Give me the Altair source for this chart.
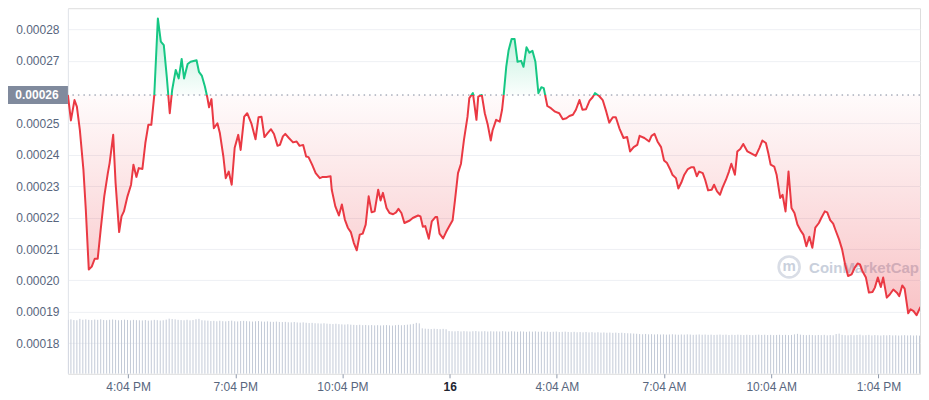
import altair as alt
import pandas as pd

# ---------------- data ----------------
start_time = "2023-06-15 14:23"
# minutes after start_time
minutes = [0, 5, 11, 15, 20, 26, 30, 35, 40, 45, 50, 55, 61, 67, 70, 76, 80, 86, 90, 94,
           100, 106, 110, 115, 119, 125, 130, 135, 140, 145, 151, 156, 161, 166, 171, 175, 181, 186, 191, 195,
           201, 206, 216, 220, 225, 230, 234, 237, 241, 245, 251, 255, 261, 265, 270, 275, 280, 286, 290, 296,
           301, 308, 315, 320, 325, 330, 336, 341, 346, 352, 356, 361, 365, 371, 378, 384, 389, 395, 400, 404,
           410, 416, 423, 428, 434, 441, 443, 449, 455, 460, 465, 470, 475, 480, 485, 490, 495, 500, 505, 510,
           515, 521, 525, 529, 535, 540, 546, 551, 555, 560, 565, 574, 579, 588, 592, 596, 600, 606, 611, 617,
           620, 624, 630, 635, 641, 646, 650, 655, 660, 665, 671, 674, 680, 686, 689, 695, 700, 705, 710, 713,
           719, 725, 729, 732, 736, 740, 745, 750, 755, 761, 765, 770, 775, 780, 785, 790, 795, 799, 805, 811,
           818, 825, 831, 837, 842, 848, 853, 859, 864, 870, 876, 881, 885, 892, 898, 904, 909, 915, 920, 926,
           933, 939, 944, 950, 956, 960, 968, 976, 980, 985, 990, 996, 1001, 1006, 1012, 1015, 1021, 1025, 1030, 1035,
           1041, 1047, 1051, 1056, 1060, 1066, 1070, 1075, 1081, 1085, 1090, 1095, 1099, 1105, 1110, 1114, 1120, 1124, 1129, 1134,
           1141, 1148, 1155, 1161, 1166, 1172, 1176, 1180, 1186, 1190, 1196, 1200, 1205, 1210, 1215, 1220, 1225, 1231, 1235, 1240,
           1245, 1250, 1255, 1261, 1265, 1271, 1275, 1280, 1285, 1289, 1295, 1300, 1305, 1310, 1316, 1321, 1326, 1330, 1334, 1340,
           1345, 1351, 1355, 1360, 1365, 1369, 1375, 1380, 1386, 1392, 1396, 1401, 1405, 1411, 1415, 1420, 1425, 1431, 1437, 1440]

prices = [0.0002591, 0.0002510, 0.0002575, 0.0002554, 0.0002480, 0.0002353, 0.0002226, 0.0002035, 0.0002044, 0.0002069,
          0.0002069, 0.0002162, 0.0002268, 0.0002342, 0.0002374, 0.0002464, 0.0002311, 0.0002154, 0.0002204, 0.0002220,
          0.0002268, 0.0002305, 0.0002369, 0.0002330, 0.0002358, 0.0002355, 0.0002438, 0.0002496, 0.0002496, 0.0002591,
          0.0002835, 0.0002761, 0.0002750, 0.0002649, 0.0002533, 0.0002607, 0.0002671, 0.0002644, 0.0002706, 0.0002644,
          0.0002690, 0.0002697, 0.0002702, 0.0002665, 0.0002652, 0.0002618, 0.0002584, 0.0002552, 0.0002578, 0.0002485,
          0.0002501, 0.0002471, 0.0002395, 0.0002326, 0.0002347, 0.0002305, 0.0002423, 0.0002464, 0.0002416, 0.0002522,
          0.0002533, 0.0002501, 0.0002450, 0.0002520, 0.0002522, 0.0002457, 0.0002471, 0.0002482, 0.0002467, 0.0002429,
          0.0002432, 0.0002459, 0.0002467, 0.0002454, 0.0002440, 0.0002443, 0.0002429, 0.0002432, 0.0002395, 0.0002393,
          0.0002369, 0.0002342, 0.0002326, 0.0002330, 0.0002330, 0.0002332, 0.0002289, 0.0002236, 0.0002207, 0.0002242,
          0.0002194, 0.0002168, 0.0002154, 0.0002120, 0.0002096, 0.0002146, 0.0002149, 0.0002178, 0.0002268, 0.0002217,
          0.0002220, 0.0002289, 0.0002255, 0.0002279, 0.0002231, 0.0002215, 0.0002211, 0.0002217, 0.0002228, 0.0002215,
          0.0002183, 0.0002191, 0.0002199, 0.0002207, 0.0002204, 0.0002171, 0.0002173, 0.0002133, 0.0002188, 0.0002202,
          0.0002202, 0.0002149, 0.0002134, 0.0002154, 0.0002175, 0.0002192, 0.0002257, 0.0002342, 0.0002372, 0.0002448,
          0.0002522, 0.0002581, 0.0002597, 0.0002512, 0.0002586, 0.0002591, 0.0002533, 0.0002496, 0.0002446, 0.0002478,
          0.0002512, 0.0002506, 0.0002544, 0.0002597, 0.0002681, 0.0002734, 0.0002770, 0.0002770, 0.0002697, 0.0002700,
          0.0002681, 0.0002743, 0.0002726, 0.0002732, 0.0002697, 0.0002597, 0.0002616, 0.0002613, 0.0002556, 0.0002549,
          0.0002538, 0.0002533, 0.0002514, 0.0002517, 0.0002524, 0.0002528, 0.0002544, 0.0002575, 0.0002544, 0.0002546,
          0.0002573, 0.0002584, 0.0002597, 0.0002588, 0.0002575, 0.0002538, 0.0002503, 0.0002520, 0.0002520, 0.0002485,
          0.0002454, 0.0002457, 0.0002411, 0.0002425, 0.0002432, 0.0002461, 0.0002454, 0.0002443, 0.0002461, 0.0002467,
          0.0002443, 0.0002425, 0.0002382, 0.0002374, 0.0002351, 0.0002337, 0.0002326, 0.0002293, 0.0002312, 0.0002337,
          0.0002355, 0.0002361, 0.0002361, 0.0002332, 0.0002347, 0.0002342, 0.0002321, 0.0002287, 0.0002289, 0.0002305,
          0.0002284, 0.0002273, 0.0002295, 0.0002321, 0.0002347, 0.0002372, 0.0002337, 0.0002411, 0.0002419, 0.0002435,
          0.0002411, 0.0002404, 0.0002397, 0.0002422, 0.0002446, 0.0002438, 0.0002406, 0.0002369, 0.0002363, 0.0002337,
          0.0002263, 0.0002273, 0.0002220, 0.0002347, 0.0002231, 0.0002215, 0.0002178, 0.0002157, 0.0002146, 0.0002109,
          0.0002139, 0.0002104, 0.0002168, 0.0002183, 0.0002199, 0.0002220, 0.0002217, 0.0002192, 0.0002181, 0.0002160,
          0.0002130, 0.0002099, 0.0002051, 0.0002014, 0.0002019, 0.0002040, 0.0002054, 0.0002051, 0.0002030, 0.0002009,
          0.0001961, 0.0001963, 0.0001977, 0.0002009, 0.0001979, 0.0002009, 0.0001945, 0.0001955, 0.0001971, 0.0001961,
          0.0001950, 0.0001984, 0.0001974, 0.0001895, 0.0001908, 0.0001902, 0.0001889, 0.0001913, 0.0001927, 0.0001927]

base_price = 0.0002591   # opening price (dotted reference line)

# 5-minute volume bars (relative heights)
volumes = [540, 545, 538, 536, 550, 541, 545, 540, 538, 543, 540, 546, 539, 537, 541, 544, 540, 536, 538, 542, 539, 535, 540, 537,
           536, 534, 538, 532, 535, 540, 537, 533, 536, 542, 552, 548, 545, 540, 538, 536, 541, 535, 538, 546, 550, 536, 534, 532,
           528, 530, 526, 531, 527, 525, 529, 532, 526, 524, 528, 530, 527, 525, 523, 526, 528, 524, 522, 525, 521, 520, 523, 519,
           518, 520, 516, 515, 519, 514, 512, 515, 511, 508, 510, 506, 505, 503, 506, 502, 500, 498, 501, 497, 495, 493, 496, 492,
           490, 488, 491, 487, 489, 486, 488, 485, 487, 484, 486, 488, 485, 483, 487, 490, 486, 489, 492, 495, 500, 510, 505, 455,
           452, 450, 448, 451, 449, 447, 450, 446, 428, 426, 425, 428, 424, 427, 425, 423, 426, 428, 424, 425, 427, 423, 426, 424,
           425, 423, 427, 424, 422, 426, 424, 421, 425, 423, 420, 424, 422, 425, 421, 423, 420, 422, 419, 421, 423, 418, 420, 422,
           419, 417, 420, 416, 418, 415, 419, 414, 417, 413, 416, 412, 414, 411, 413, 410, 412, 409, 411, 408, 406, 405, 403, 401,
           398, 396, 399, 395, 397, 394, 396, 393, 395, 392, 394, 396, 393, 391, 394, 392, 395, 393, 390, 392, 394, 391, 393, 390,
           392, 389, 391, 393, 390, 392, 388, 391, 389, 392, 390, 388, 391, 389, 387, 390, 392, 389, 391, 388, 390, 387, 389, 391,
           388, 390, 387, 389, 395, 400, 392, 389, 387, 390, 388, 386, 389, 387, 390, 385, 388, 386, 398, 402, 390, 387, 385, 388,
           386, 389, 392, 385, 387, 390, 384, 388, 386, 383, 387, 385, 388, 384, 386, 383, 385, 387, 384, 386, 383, 385, 382, 384]

y_ticks = [0.00018, 0.00019, 0.00020, 0.00021, 0.00022, 0.00023, 0.00024, 0.00025, 0.00027, 0.00028]
x_tick_hours = [16, 19, 22, 1, 4, 7, 10, 13]
x_tick_labels = ["4:04 PM", "7:04 PM", "10:04 PM", "16", "4:04 AM", "7:04 AM", "10:04 AM", "1:04 PM"]
watermark = "CoinMarketCap"

# ---------------- tables ----------------
t0 = pd.Timestamp(start_time)
price_df = pd.DataFrame({"time": t0 + pd.to_timedelta(minutes, unit="m"),
                         "price": prices, "base": base_price})
vol_df = pd.DataFrame({"time": pd.date_range(t0, periods=len(volumes), freq="5min"),
                       "volume": volumes})
base_df = pd.DataFrame({"base": [base_price], "label": [f"{base_price:.5f}"]})
wm_df = pd.DataFrame({"txt": [watermark]})

GREEN = "#16c784"
RED = "#ea3943"
FONT = "Liberation Sans"
LABEL = "#58667e"

pmax, pmin = max(prices), min(prices)
off = (pmax - base_price) / (pmax - pmin)

# visible window (page is 929px wide; the last few minutes fall just past the right edge)
x_scale = alt.Scale(domain=[alt.DateTime(year=2023, month=6, date=15, hours=14, minutes=23),
                            alt.DateTime(year=2023, month=6, date=16, hours=14, minutes=13, seconds=48)])
tick_vals = [alt.DateTime(year=2023, month=6, date=(15 if h >= 14 else 16), hours=h, minutes=4)
             for h in x_tick_hours]
is16 = "hours(datum.value) == 1"
x_axis = alt.Axis(values=tick_vals,
                  labelExpr=f"{x_tick_labels}[indexof({x_tick_hours}, hours(datum.value))]",
                  title=None, grid=False, domain=False, ticks=True, tickSize=4,
                  tickColor="#8e98aa", labelPadding=4, labelFontSize=12, labelFont=FONT,
                  labelColor={"condition": {"test": is16, "value": "#222531"}, "value": LABEL},
                  labelFontWeight={"condition": {"test": is16, "value": "bold"}, "value": "normal"},
                  labelFlush=False)

y_scale = alt.Scale(domain=[0.00017022, 0.00028678], nice=False, zero=False)
y_axis = alt.Axis(values=y_ticks, format=".5f", title=None, orient="left",
                  grid=True, gridColor="#eef0f4", domain=True, domainColor="#e3e6ec",
                  ticks=False, tickSize=0, labelPadding=9, labelFontSize=12, labelFont=FONT,
                  labelColor=LABEL, minExtent=60, maxExtent=60)

X = alt.X("time:T", scale=x_scale, axis=x_axis)

vol = alt.Chart(vol_df).mark_rule(color="#c3cad7", strokeWidth=1, clip=True).encode(
    x=X,
    y=alt.Y("volume:Q", scale=alt.Scale(domain=[0, 3660]), axis=None),
    y2=alt.datum(0),
)

area_grad = alt.Gradient(gradient="linear", x1=0, x2=0, y1=0, y2=1, stops=[
    alt.GradientStop(color="rgba(22,199,132,0.32)", offset=0),
    alt.GradientStop(color="rgba(22,199,132,0.02)", offset=off),
    alt.GradientStop(color="rgba(234,57,67,0.02)", offset=off),
    alt.GradientStop(color="rgba(234,57,67,0.30)", offset=1),
])
line_grad = alt.Gradient(gradient="linear", x1=0, x2=0, y1=0, y2=1, stops=[
    alt.GradientStop(color=GREEN, offset=0),
    alt.GradientStop(color=GREEN, offset=off),
    alt.GradientStop(color=RED, offset=off),
    alt.GradientStop(color=RED, offset=1),
])

wm_logo = alt.Chart(wm_df).mark_point(shape="circle", filled=False, size=440, strokeWidth=2.6,
                                      color="#c9d0dc").encode(x=alt.value(722), y=alt.value(259))
wm_m = alt.Chart(wm_df).mark_text(text="m", font=FONT, fontSize=15, fontWeight="bold",
                                  color="#c9d0dc", align="center", baseline="middle").encode(
    x=alt.value(722), y=alt.value(258))
wm_text = alt.Chart(wm_df).mark_text(font=FONT, fontSize=15, fontWeight="bold", color="#c9d0dc",
                                     align="left", baseline="middle").encode(
    x=alt.value(742), y=alt.value(260), text="txt:N")

area = alt.Chart(price_df).mark_area(color=area_grad, interpolate="linear", clip=True).encode(
    x=X, y=alt.Y("price:Q", scale=y_scale, axis=y_axis), y2="base:Q")
line = alt.Chart(price_df).mark_line(stroke=line_grad, strokeWidth=2, interpolate="linear",
                                     strokeJoin="round", clip=True).encode(
    x=X, y=alt.Y("price:Q", scale=y_scale, axis=y_axis))

base_rule = alt.Chart(base_df).mark_rule(color="#7d869a", strokeDash=[1.5, 4], strokeWidth=1).encode(
    y=alt.Y("base:Q", scale=y_scale, axis=y_axis))
base_box = alt.Chart(base_df).mark_rect(color="#808a9d", yOffset=-9, y2Offset=9).encode(
    x=alt.value(-60), x2=alt.value(0),
    y=alt.Y("base:Q", scale=y_scale, axis=y_axis), y2="base:Q")
base_txt = alt.Chart(base_df).mark_text(color="white", font=FONT, fontSize=12, fontWeight=600,
                                        align="center", baseline="middle").encode(
    x=alt.value(-31), y=alt.Y("base:Q", scale=y_scale, axis=y_axis), text="label:N")

price_layer = alt.layer(wm_logo, wm_m, wm_text, area, base_rule, line, base_box, base_txt)

chart = alt.layer(vol, price_layer).resolve_scale(y="independent").properties(
    width=853, height=366, padding={"left": 0, "top": 0, "right": 0, "bottom": 0}
).configure_view(stroke=None).configure(background="white")

chart.save("out.html", embed_options={"renderer": "svg", "actions": False})
